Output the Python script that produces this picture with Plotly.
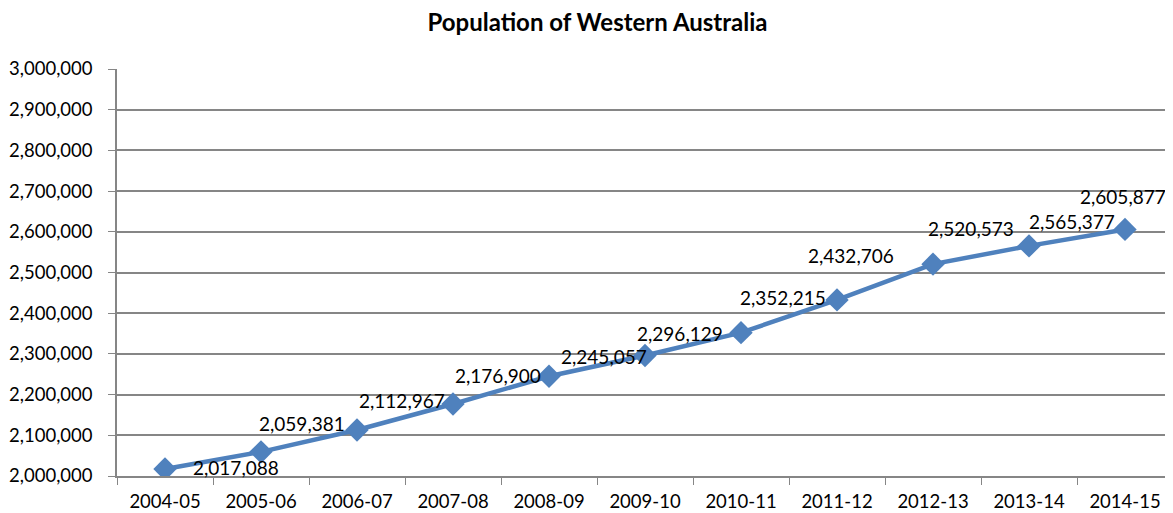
import plotly.graph_objects as go

# data
years = ["2004-05", "2005-06", "2006-07", "2007-08", "2008-09", "2009-10",
         "2010-11", "2011-12", "2012-13", "2013-14", "2014-15"]
population = [2017088, 2059381, 2112967, 2176900, 2245057, 2296129,
              2352215, 2432706, 2520573, 2565377, 2605877]

# label offsets (px) from each marker, left edge of text
label_dx = [26, -4, 0, 0, 10, -10, -3, -31, -7, -2, -47]
label_dy = [2, 28, 30, 29, 20, 22, 35, 44, 36, 24, 33]

font_family = "Lato, 'Open Sans', sans-serif"
grid_color = "#868686"
line_color = "#4F81BD"

fig = go.Figure()

fig.add_trace(
    go.Scatter(
        x=years,
        y=population,
        mode="lines+markers",
        line=dict(color=line_color, width=4.5),
        marker=dict(symbol="diamond", size=18, color=line_color),
        showlegend=False,
        hoverinfo="x+y",
    )
)

# data labels
for yr, val, dx, dy in zip(years, population, label_dx, label_dy):
    fig.add_annotation(
        x=yr,
        y=val,
        text=f"{val:,}",
        showarrow=False,
        xanchor="left",
        yanchor="middle",
        xshift=dx,
        yshift=dy,
        font=dict(size=19, color="#000000", family=font_family),
    )

# page body has an 8px default margin, so the figure is 8px smaller each way
fig.update_layout(
    width=1165,
    height=505,
    margin=dict(l=109, r=0, t=61, b=37),
    paper_bgcolor="white",
    plot_bgcolor="white",
    font=dict(family=font_family, size=19, color="#000000"),
    title=dict(
        text="<b>Population of Western Australia</b>",
        x=0.506,
        xref="container",
        xanchor="center",
        y=0.972,
        yref="container",
        yanchor="middle",
        font=dict(size=24, family=font_family, color="#000000"),
    ),
)

fig.update_xaxes(
    type="category",
    range=[-0.5, 10.5],
    automargin=False,
    showgrid=False,
    showline=True,
    linecolor=grid_color,
    linewidth=1.5,
    ticks="outside",
    tickson="boundaries",
    ticklen=7,
    tickcolor=grid_color,
    tickfont=dict(size=18.5),
    ticklabelstandoff=8,
)

fig.update_yaxes(
    range=[2000000, 3000000],
    dtick=100000,
    tickformat=",d",
    automargin=False,
    showgrid=True,
    gridcolor=grid_color,
    gridwidth=1.5,
    showline=True,
    linecolor=grid_color,
    linewidth=1.5,
    ticks="outside",
    ticklen=7,
    tickcolor=grid_color,
    tickfont=dict(size=18.5),
    ticklabelstandoff=12,
    zeroline=False,
)

fig.write_html("out.html")
